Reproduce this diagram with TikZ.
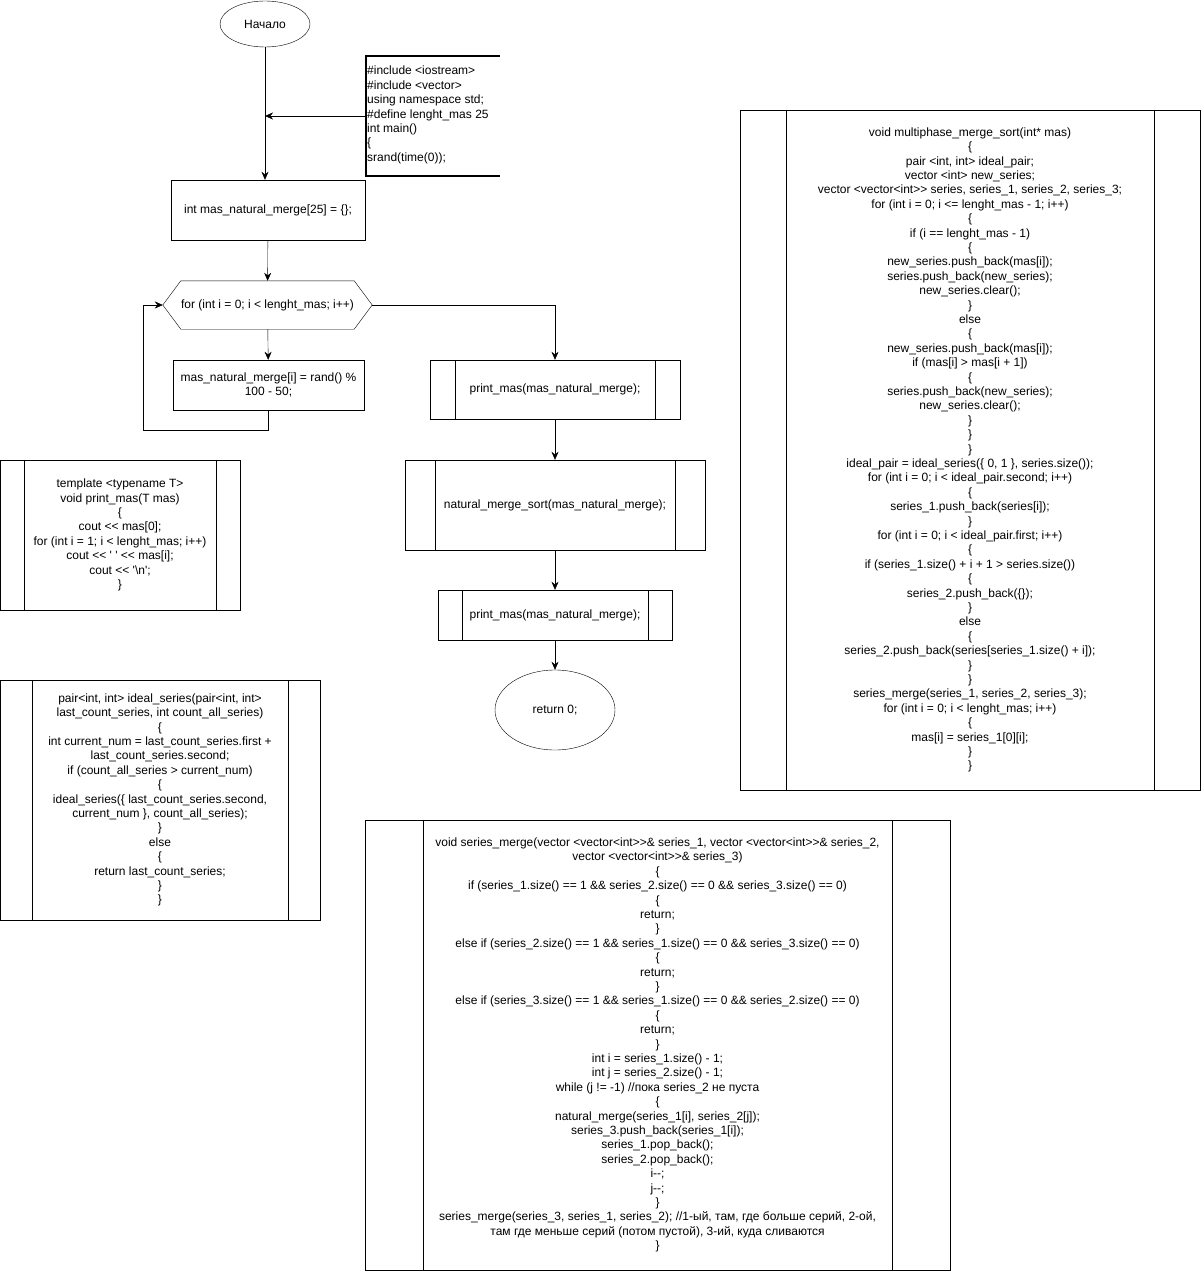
\documentclass[tikz,border=0pt]{standalone}
\usepackage{fontspec}
\setmainfont{Liberation Sans}
\newfontfamily\codefont{Liberation Sans}
\usetikzlibrary{shapes.geometric,arrows.meta}

\tikzset{
  term/.style={draw, ellipse, inner sep=0pt},
  block/.style={draw, rectangle, inner sep=0pt, align=center},
  forbox/.style={rectangle, inner sep=0pt},
  notebar/.style={line width=1.5pt}
}

\begin{document}
\begin{tikzpicture}[x=1pt,y=-1pt,>={Stealth[length=8pt,width=7pt]},
                    font=\codefont\fontsize{12}{14.4}\selectfont]
  \useasboundingbox (0,0) rectangle (1202,1271);

  % main flow
  \node[term, minimum width=90pt, minimum height=46pt] (start) at (265,24) {Начало};
  \node[block, minimum width=194pt, minimum height=60pt] (init) at (268,210)
    {int mas\_natural\_merge[25] = \{\};};
  \node[forbox, minimum width=209pt, minimum height=48pt] (forl) at (267.5,305)
    {for (int i = 0; i < lenght\_mas; i++)};
  \draw (forl.west) -- ([xshift=18pt]forl.north west) -- ([xshift=-18pt]forl.north east)
        -- (forl.east) -- ([xshift=-18pt]forl.south east) -- ([xshift=18pt]forl.south west)
        -- cycle;
  \node[block, minimum width=191pt, minimum height=50pt] (body) at (268.5,385)
    {mas\_natural\_merge[i] = rand() \% \\ 100 - 50;};
  \node[block, minimum width=250pt, minimum height=59pt] (pm1) at (555,389.5)
    {print\_mas(mas\_natural\_merge);};
  \node[block, minimum width=300pt, minimum height=90pt] (nms) at (555,505)
    {natural\_merge\_sort(mas\_natural\_merge);};
  \node[block, minimum width=234pt, minimum height=50pt] (pm2) at (555,615)
    {print\_mas(mas\_natural\_merge);};
  \node[term, minimum width=120pt, minimum height=80pt] (stop) at (555,710) {return 0;};

  % comment
  \node[anchor=west, align=left, inner sep=1pt] (incl) at (366,115)
    {\#include <iostream>\\ \#include <vector>\\ using namespace std;\\
     \#define lenght\_mas 25\\ int main()\\ \{\\ srand(time(0));};
  \draw[notebar] (500,56) -| (366,176) -- (500,176);
  \coordinate (cm) at (366,116);
  \coordinate (jn) at (265,116);

  % functions
  \node[block, minimum width=240pt, minimum height=150pt] (pmdef) at (120,535)
    {template <typename T>\\ void print\_mas(T mas)\\ \{\\ cout <{}< mas[0];\\
     for (int i = 1; i < lenght\_mas; i++)\\ cout <{}< ' ' <{}< mas[i];\\
     cout <{}< '\textbackslash n';\\ \}};
  \node[block, minimum width=320pt, minimum height=240pt] (idl) at (160,800)
    {pair<int, int> ideal\_series(pair<int, int>\\
     last\_count\_series, int count\_all\_series)\\ \{\\
     int current\_num = last\_count\_series.first +\\
     last\_count\_series.second;\\
     if (count\_all\_series > current\_num)\\ \{\\
     ideal\_series(\{ last\_count\_series.second,\\
     current\_num \}, count\_all\_series);\\ \}\\ else\\ \{\\
     return last\_count\_series;\\ \}\\ \}};
  \node[block, minimum width=460pt, minimum height=680pt] (mms) at (970,450)
    {void multiphase\_merge\_sort(int* mas)\\ \{\\
     pair <int, int> ideal\_pair;\\
     vector <int> new\_series;\\
     vector <vector<int>{}> series, series\_1, series\_2, series\_3;\\
     for (int i = 0; i <= lenght\_mas - 1; i++)\\ \{\\
     if (i == lenght\_mas - 1)\\ \{\\
     new\_series.push\_back(mas[i]);\\
     series.push\_back(new\_series);\\
     new\_series.clear();\\ \}\\ else\\ \{\\
     new\_series.push\_back(mas[i]);\\
     if (mas[i] > mas[i + 1])\\ \{\\
     series.push\_back(new\_series);\\
     new\_series.clear();\\ \}\\ \}\\ \}\\
     ideal\_pair = ideal\_series(\{ 0, 1 \}, series.size());\\
     for (int i = 0; i < ideal\_pair.second; i++)\\ \{\\
     series\_1.push\_back(series[i]);\\ \}\\
     for (int i = 0; i < ideal\_pair.first; i++)\\ \{\\
     if (series\_1.size() + i + 1 > series.size())\\ \{\\
     series\_2.push\_back(\{\});\\ \}\\ else\\ \{\\
     series\_2.push\_back(series[series\_1.size() + i]);\\ \}\\ \}\\
     series\_merge(series\_1, series\_2, series\_3);\\
     for (int i = 0; i < lenght\_mas; i++)\\ \{\\
     mas[i] = series\_1[0][i];\\ \}\\ \}};
  \node[block, minimum width=585pt, minimum height=450pt] (smg) at (657.5,1045)
    {void series\_merge(vector <vector<int>{}>\& series\_1, vector <vector<int>{}>\& series\_2,\\
     vector <vector<int>{}>\& series\_3)\\ \{\\
     if (series\_1.size() == 1 \&\& series\_2.size() == 0 \&\& series\_3.size() == 0)\\ \{\\ return;\\ \}\\
     else if (series\_2.size() == 1 \&\& series\_1.size() == 0 \&\& series\_3.size() == 0)\\ \{\\ return;\\ \}\\
     else if (series\_3.size() == 1 \&\& series\_1.size() == 0 \&\& series\_2.size() == 0)\\ \{\\ return;\\ \}\\
     int i = series\_1.size() - 1;\\
     int j = series\_2.size() - 1;\\
     while (j != -1) //пока series\_2 не пуста\\ \{\\
     natural\_merge(series\_1[i], series\_2[j]);\\
     series\_3.push\_back(series\_1[i]);\\
     series\_1.pop\_back();\\
     series\_2.pop\_back();\\
     i-{}-;\\ j-{}-;\\ \}\\
     series\_merge(series\_3, series\_1, series\_2); //1-ый, там, где больше серий, 2-ой,\\
     там где меньше серий (потом пустой), 3-ий, куда сливаются\\ \}};

  % side bars of the subprocess boxes
  \foreach \n/\d in {pm1/25,nms/30,pm2/24,pmdef/24,idl/32,mms/46,smg/58}
    \draw ([xshift=\d pt]\n.north west) -- ([xshift=\d pt]\n.south west)
          ([xshift=-\d pt]\n.north east) -- ([xshift=-\d pt]\n.south east);

  % connectors
  \draw[->] (start) -- (start |- init.north);
  \draw[->] (cm) -- (jn);
  \foreach \from/\to in {init/forl,forl/body,pm1/nms,nms/pm2,pm2/stop}
    \draw[->] (\from) -- (\to);
  \draw[->] (body.south) -- ++(0,20) -| ([xshift=-20pt]forl.west) -- (forl.west);
  \draw[->] (forl.east) -| (pm1.north);
\end{tikzpicture}
\end{document}
